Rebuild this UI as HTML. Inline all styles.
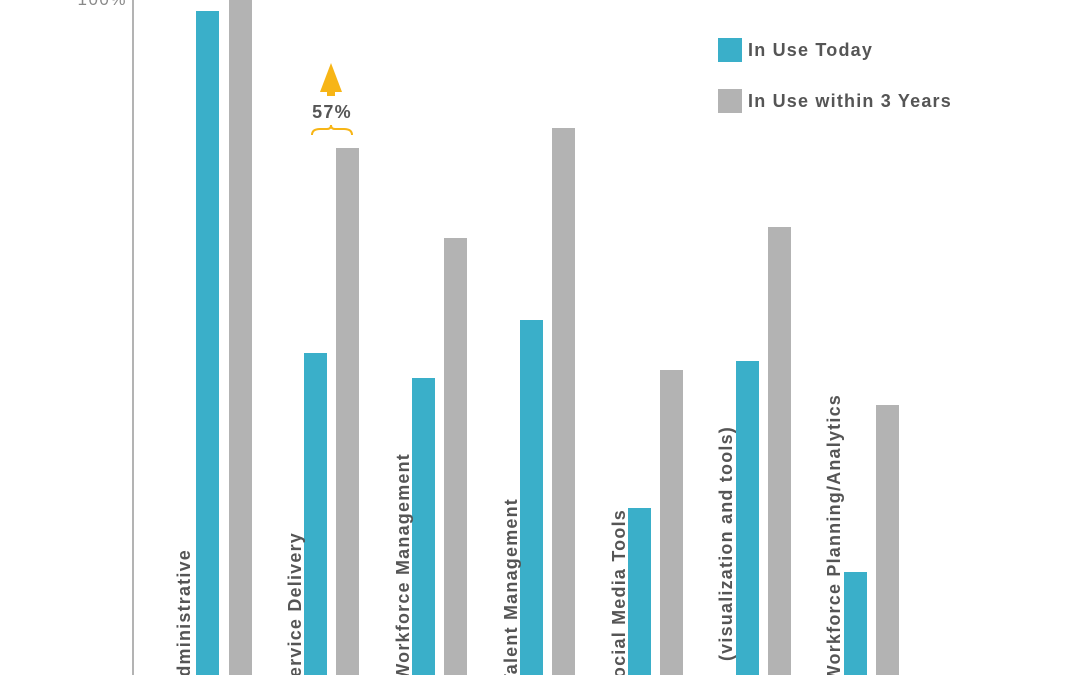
<!DOCTYPE html>
<html><head><meta charset="utf-8"><style>
html,body{margin:0;padding:0;background:#fff;}
svg{display:block;font-family:"Liberation Sans",sans-serif;}
</style></head><body>
<svg width="1080" height="675" viewBox="0 0 1080 675">
<line x1="133" y1="0" x2="133" y2="675" stroke="#9a9a9a" stroke-width="1.5"/>
<text x="127" y="5" text-anchor="end" font-size="17" fill="#888" letter-spacing="1.5">100%</text>
<g fill="#3AAFC9">
<rect x="196" y="11" width="23" height="664"/>
<rect x="304" y="353" width="23" height="322"/>
<rect x="412" y="378" width="23" height="297"/>
<rect x="520" y="320" width="23" height="355"/>
<rect x="628" y="508" width="23" height="167"/>
<rect x="736" y="361" width="23" height="314"/>
<rect x="844" y="572" width="23" height="103"/>
</g>
<g fill="#B3B3B3">
<rect x="229" y="0" width="23" height="675"/>
<rect x="336" y="148" width="23" height="527"/>
<rect x="444" y="238" width="23" height="437"/>
<rect x="552" y="128" width="23" height="547"/>
<rect x="660" y="370" width="23" height="305"/>
<rect x="768" y="227" width="23" height="448"/>
<rect x="876" y="405" width="23" height="270"/>
</g>
<g font-size="18" font-weight="bold" fill="#555" text-anchor="end" letter-spacing="1.2">
<text transform="translate(190,549) rotate(-90)">Administrative</text>
<text transform="translate(301,532) rotate(-90)">Service Delivery</text>
<text transform="translate(409,453) rotate(-90)">Workforce Management</text>
<text transform="translate(517,498) rotate(-90)">Talent Management</text>
<text transform="translate(625,509) rotate(-90)">Social Media Tools</text>
<text transform="translate(732,426) rotate(-90)">(visualization and tools)</text>
<text transform="translate(840,394) rotate(-90)">Workforce Planning/Analytics</text>
</g>
<rect x="718" y="38" width="24" height="24" fill="#3AAFC9"/>
<text x="748" y="56" font-size="18" font-weight="bold" fill="#555" letter-spacing="1.2">In Use Today</text>
<rect x="718" y="89" width="24" height="24" fill="#B3B3B3"/>
<text x="748" y="107" font-size="18" font-weight="bold" fill="#555" letter-spacing="1.2">In Use within 3 Years</text>
<polygon points="331,63 320,92 342,92" fill="#F7B516"/>
<rect x="327" y="90" width="8" height="6" fill="#F7B516"/>
<text x="332" y="118" text-anchor="middle" font-size="18" font-weight="bold" fill="#555" letter-spacing="1.2">57%</text>
<path d="M312,135 Q312,129 320,129 L327,129 Q331,129 331,125 Q331,129 335,129 L344,129 Q352,129 352,135" fill="none" stroke="#F7B516" stroke-width="2"/>
</svg>
</body></html>
